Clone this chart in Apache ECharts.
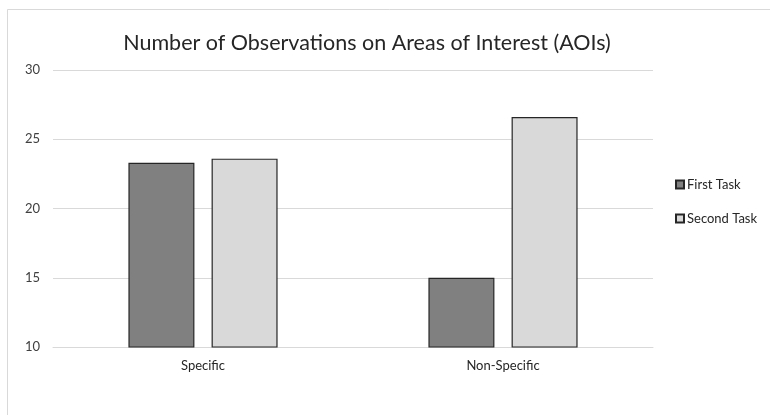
<!DOCTYPE html>
<html>
<head>
<meta charset="utf-8">
<script src="https://cdn.jsdelivr.net/npm/echarts@6/dist/echarts.min.js"></script>
<style>
  html, body { margin: 0; padding: 0; background: #ffffff; }
  #chart { width: 770px; height: 415px; }
</style>
</head>
<body>
<div id="chart"></div>
<script>
// Areas of interest and observation counts per task
const categories = ['Specific', 'Non-Specific'];
const firstTask = [23.3, 15.0];
const secondTask = [23.6, 26.6];
const yTicks = { min: 10, max: 30, interval: 5 };

const font = 'Lato, "Open Sans", "Liberation Sans", sans-serif';

const chart = echarts.init(document.getElementById('chart'), null, { renderer: 'canvas' });

chart.setOption({
  backgroundColor: '#ffffff',
  animation: false,
  graphic: [{
    type: 'rect',
    shape: { x: 7.5, y: 9.5, width: 800, height: 500 },
    style: { fill: 'none', stroke: '#d9d9d9', lineWidth: 1 },
    silent: true
  }],
  title: {
    text: 'Number of Observations on Areas of Interest (AOIs)',
    left: 362,
    textAlign: 'center',
    top: 27,
    textStyle: { fontFamily: font, fontWeight: 'normal', fontSize: 21.5, color: '#262626' }
  },
  legend: {
    orient: 'vertical',
    left: 670,
    top: 173,
    itemGap: 21,
    itemWidth: 8,
    itemHeight: 8,
    icon: 'rect',
    textStyle: { fontFamily: font, fontSize: 13, color: '#262626', padding: [0, 0, 0, -2] },
    data: ['First Task', 'Second Task']
  },
  grid: { left: 53, right: 117, top: 70, bottom: 68 },
  xAxis: {
    type: 'category',
    data: categories,
    axisLine: { show: true, lineStyle: { color: '#d9d9d9', width: 1 } },
    axisTick: { show: false },
    axisLabel: { fontFamily: font, fontSize: 13, color: '#262626', margin: 12 }
  },
  yAxis: {
    type: 'value',
    min: yTicks.min,
    max: yTicks.max,
    interval: yTicks.interval,
    axisLine: { show: false },
    axisTick: { show: false },
    splitLine: { lineStyle: { color: '#d9d9d9', width: 1 } },
    axisLabel: { fontFamily: font, fontSize: 13, color: '#404040', margin: 13 }
  },
  series: [
    {
      name: 'First Task',
      type: 'bar',
      data: firstTask,
      barWidth: '22%',
      barGap: '26%',
      itemStyle: { color: '#808080', borderColor: '#262626', borderWidth: 1.2 }
    },
    {
      name: 'Second Task',
      type: 'bar',
      data: secondTask,
      barWidth: '22%',
      itemStyle: { color: '#d9d9d9', borderColor: '#262626', borderWidth: 1.2 }
    }
  ]
});
</script>
</body>
</html>
